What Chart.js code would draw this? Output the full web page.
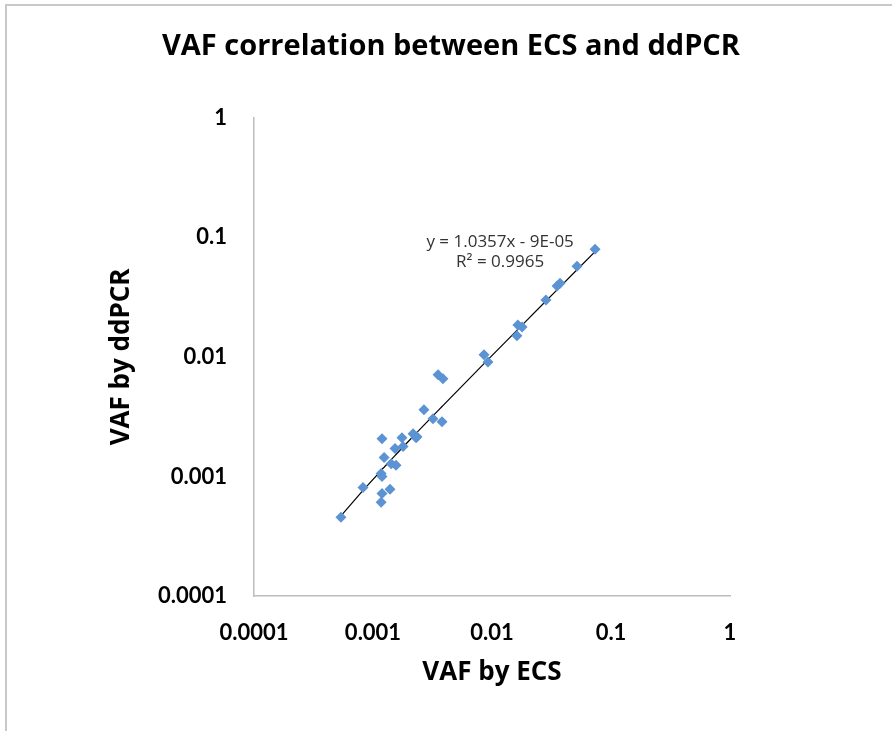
<!DOCTYPE html>
<html>
<head>
<meta charset="utf-8">
<script src="https://cdn.jsdelivr.net/npm/chart.js@4/dist/chart.umd.min.js"></script>
<style>
    html, body { margin: 0; padding: 0; background: #fff; }
    #wrap { position: relative; width: 892px; height: 731px; }
    #frame { position: absolute; left: 5px; top: 4px; right: 0; bottom: 0;
             border-top: 2px solid #c8c8c8; border-left: 2px solid #c8c8c8; pointer-events: none; }
</style>
</head>
<body>
<div id="wrap">
    <canvas id="vaf" width="892" height="731"></canvas>
    <div id="frame"></div>
</div>
<script>
// VAF measured by ECS (x) and by ddPCR (y)
var ecs = [0.000538, 0.000824, 0.00119, 0.00124, 0.00117, 0.00119, 0.00139, 0.00119, 0.00117,
    0.00142, 0.00156, 0.00153, 0.00175, 0.00179, 0.00217, 0.00230, 0.00234, 0.00268, 0.00319,
    0.00380, 0.00352, 0.00387, 0.00857, 0.00925, 0.0162, 0.0165, 0.0179, 0.0284, 0.0352,
    0.0373, 0.0518, 0.0735];
var ddpcr = [0.000455, 0.000809, 0.00207, 0.00144, 0.00106, 0.00100, 0.00078, 0.00072, 0.000607,
    0.00128, 0.00124, 0.00171, 0.00211, 0.00178, 0.00228, 0.00211, 0.00215, 0.00361, 0.00304,
    0.00287, 0.00708, 0.00656, 0.0104, 0.00908, 0.0150, 0.0185, 0.0178, 0.0299, 0.0391,
    0.0414, 0.0573, 0.0794];

var tickValues = [0.0001, 0.001, 0.01, 0.1, 1];
var tickLabels = ['0.0001', '0.001', '0.01', '0.1', '1'];

// linear trendline reported by the spreadsheet
var slope = 1.0357;
var intercept = -0.00009;
var trendText = ['y = 1.0357x - 9E-05', 'R\u00B2 = 0.9965'];

var points = ecs.map(function (x, i) { return {x: x, y: ddpcr[i]}; });
var trend = ecs.slice().sort(function (a, b) { return a - b; }).map(function (x) {
    return {x: x, y: slope * x + intercept};
});

function fixTicks(scale) {
    scale.ticks = tickValues.map(function (v) { return {value: v}; });
}
function tickText(value) {
    var i = tickValues.indexOf(value);
    return i >= 0 ? tickLabels[i] : '';
}

var trendLabel = {
    id: 'trendLabel',
    afterDatasetsDraw: function (chart) {
        var ctx = chart.ctx;
        var x = chart.scales.x.getPixelForValue(0.0117);
        var y = chart.scales.y.getPixelForValue(0.1);
        ctx.save();
        ctx.font = '17px "Open Sans"';
        ctx.fillStyle = '#333';
        ctx.textAlign = 'center';
        ctx.textBaseline = 'middle';
        ctx.fillText(trendText[0], x, y + 5);
        ctx.fillText(trendText[1], x, y + 25);
        ctx.restore();
    }
};

var vafCtx = document.getElementById('vaf');
var vafChart = new Chart(vafCtx, {
    type: 'scatter',
    data: {
        datasets: [{
            label: 'VAF',
            data: points,
            pointStyle: 'rectRot',
            pointRadius: 5.5,
            backgroundColor: '#5b93d3',
            borderColor: '#5b93d3',
            borderWidth: 0
        }, {
            label: 'Trend',
            type: 'line',
            data: trend,
            borderColor: '#000',
            borderWidth: 1.2,
            pointRadius: 0,
            fill: false
        }]
    },
    options: {
        responsive: false,
        animation: false,
        layout: {
            padding: {left: 10, right: 0, top: 0, bottom: 0}
        },
        plugins: {
            legend: {display: false},
            tooltip: {enabled: false},
            title: {
                display: true,
                text: 'VAF correlation between ECS and ddPCR',
                color: '#000',
                font: {family: 'Open Sans', size: 29, weight: 'bold', lineHeight: 1.2},
                padding: {top: 29, bottom: 54}
            }
        },
        scales: {
            x: {
                type: 'logarithmic',
                min: 0.0001,
                max: 1,
                afterBuildTicks: fixTicks,
                afterFit: function (scale) { scale.height = 135; },
                grid: {display: false, drawTicks: false},
                border: {display: true, color: '#bdbdbd', width: 1.5},
                ticks: {
                    callback: tickText,
                    color: '#000',
                    padding: 24,
                    maxRotation: 0,
                    autoSkip: false,
                    font: {family: 'Lato', size: 22, weight: 'bold'}
                },
                title: {
                    display: true,
                    text: 'VAF by ECS',
                    color: '#000',
                    font: {family: 'Open Sans', size: 26, weight: 'bold', lineHeight: 1.2},
                    padding: {top: 0, bottom: 43}
                }
            },
            y: {
                type: 'logarithmic',
                min: 0.0001,
                max: 1,
                afterBuildTicks: fixTicks,
                afterFit: function (scale) { scale.width = 244; },
                grid: {display: false, drawTicks: false},
                border: {display: true, color: '#bdbdbd', width: 1.5},
                ticks: {
                    callback: tickText,
                    color: '#000',
                    padding: 27,
                    autoSkip: false,
                    font: {family: 'Lato', size: 22, weight: 'bold'}
                },
                title: {
                    display: true,
                    text: 'VAF by ddPCR',
                    color: '#000',
                    font: {family: 'Open Sans', size: 26, weight: 'bold', lineHeight: 1.2},
                    padding: {top: 96, bottom: 0}
                }
            },
            // empty right-hand space, keeps the plot area where the reference has it
            spacer: {
                type: 'linear',
                position: 'right',
                afterFit: function (scale) { scale.width = 162; },
                grid: {display: false, drawTicks: false},
                border: {display: false},
                ticks: {display: false}
            }
        }
    },
    plugins: [trendLabel]
});
</script>
</body>
</html>
